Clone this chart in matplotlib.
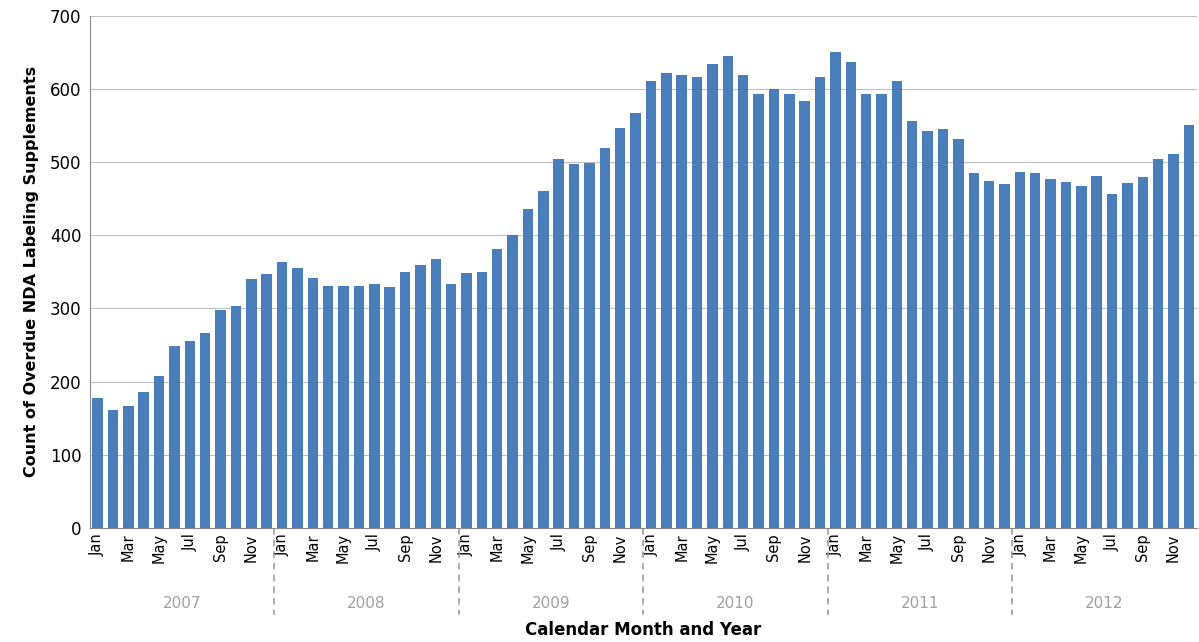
import matplotlib

matplotlib.use("Agg")
import matplotlib.pyplot as plt

YEARS = ["2007", "2008", "2009", "2010", "2011", "2012"]
MONTHS = ["Jan", "Feb", "Mar", "Apr", "May", "Jun",
          "Jul", "Aug", "Sep", "Oct", "Nov", "Dec"]
COUNTS = [
    177, 161, 167, 185, 208, 249, 255, 267, 298, 304, 340, 347,
    364, 355, 341, 331, 331, 331, 334, 329, 350, 359, 368, 334,
    348, 350, 381, 401, 436, 460, 505, 498, 499, 519, 547, 567,
    611, 622, 620, 616, 634, 645, 619, 593, 600, 593, 584, 617,
    651, 637, 594, 594, 611, 556, 543, 546, 532, 485, 474, 470,
    487, 485, 477, 473, 468, 481, 456, 471, 480, 505, 511, 551,
]

fig = plt.figure(figsize=(11.99, 6.42), dpi=100)
ax = fig.add_axes([0.075, 0.178, 0.923, 0.797])

x = list(range(len(COUNTS)))
ax.bar(x, COUNTS, width=0.68, color="#4a7ebb", zorder=3)
ax.set_xlim(-0.5, len(COUNTS) - 0.5)
ax.set_ylim(0, 700)
ax.set_yticks(range(0, 701, 100))
ax.tick_params(axis="y", labelsize=12, length=0, pad=6)
ax.grid(axis="y", color="#c0c0c0", linewidth=0.8, zorder=0)

labels = [m if i % 2 == 0 else "" for i, m in enumerate(MONTHS * len(YEARS))]
ax.set_xticks(x)
ax.set_xticklabels(labels, rotation=90, fontsize=10.5)
ax.tick_params(axis="x", length=0, pad=4)

for side in ("top", "right"):
    ax.spines[side].set_visible(False)
ax.spines["left"].set_color("#888888")
ax.spines["bottom"].set_color("#888888")

for k, year in enumerate(YEARS):
    ax.text(k * 12 + 5.5, -0.148, year, transform=ax.get_xaxis_transform(),
            ha="center", va="center", fontsize=11, color="#a0a0a0")
    if k > 0:
        ax.plot([k * 12 - 0.5] * 2, [0, -0.17], transform=ax.get_xaxis_transform(),
                clip_on=False, color="#a0a0a0", linestyle=(0, (4, 3)), linewidth=1.2)

ax.text(0.5, -0.2, "Calendar Month and Year", transform=ax.transAxes,
        ha="center", va="center", fontsize=12, fontweight="bold")
ax.set_ylabel("Count of Overdue NDA Labeling Supplements", fontsize=11.5,
              fontweight="bold", labelpad=8)

fig.savefig("out.png", dpi=100)
